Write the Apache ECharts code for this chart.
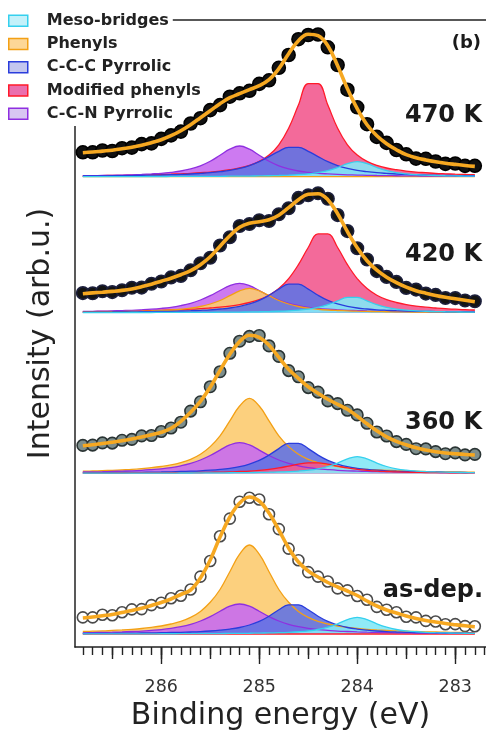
<!DOCTYPE html>
<html><head><meta charset="utf-8">
<script src="https://cdn.jsdelivr.net/npm/echarts@6/dist/echarts.min.js"></script>
<style>html,body{margin:0;padding:0;background:#fff}#c{width:486px;height:738px}</style>
</head><body><div id="c"></div>
<script>
// Binding energy grid (eV)
const energy = [286.8,286.7,286.6,286.5,286.4,286.3,286.2,286.1,286.0,285.9,285.8,285.7,285.6,285.5,285.4,285.3,285.2,285.1,285.0,284.9,284.8,284.7,284.6,284.5,284.4,284.3,284.2,284.1,284.0,283.9,283.8,283.7,283.6,283.5,283.4,283.3,283.2,283.1,283.0,282.9,282.8];
const xTickLabels = [283,284,285,286];
const componentNames = ['Meso-bridges','Phenyls','C-C-C Pyrrolic','Modified phenyls','C-C-N Pyrrolic'];
const panelLabels = ['as-dep.','360 K','420 K','470 K'];
const offsets = [13,173.7,334.3,470.3];

// ---- as-dep. ----
const asdepMeso = [0.12,0.13,0.14,0.15,0.16,0.18,0.19,0.21,0.23,0.26,0.28,0.32,0.36,0.41,0.47,0.53,0.63,0.73,0.89,1.08,1.34,1.7,2.25,3.1,4.5,6.8,10.2,14.4,16.7,14.4,10.2,6.8,4.5,3.1,2.25,1.7,1.34,1.08,0.89,0.73,0.63];
const asdepPhenyls = [2.5,2.8,3.1,3.6,4.1,4.7,5.5,6.6,8.0,10.0,12.6,16.6,22.6,31.7,44.5,62.3,79.8,89,79.8,62.3,44.5,31.7,22.6,16.6,12.6,10.0,8.0,6.6,5.5,4.7,4.1,3.6,3.1,2.8,2.5,2.2,2.0,1.8,1.6,1.5,1.4];
const asdepCCC = [0.5,0.6,0.6,0.7,0.8,0.9,1.0,1.1,1.3,1.5,1.7,2.0,2.4,3.0,3.8,4.9,6.5,9.0,12.6,17.8,24.2,29.2,29.2,24.2,17.8,12.6,9.0,6.5,4.9,3.8,3.0,2.4,2.0,1.7,1.5,1.3,1.1,1.0,0.9,0.8,0.7];
const asdepModified = [0,0,0,0,0,0,0,0,0,0,0,0,0,0,0,0,0,0,0,0,0,0,0,0,0,0,0,0,0,0,0,0,0,0,0,0,0,0,0,0,0];
const asdepCCN = [1.2,1.4,1.6,1.8,2.1,2.5,2.9,3.6,4.4,5.6,7.3,9.7,13.0,17.4,22.7,27.8,30,27.8,22.7,17.4,13.0,9.7,7.3,5.6,4.4,3.6,2.9,2.5,2.1,1.8,1.6,1.4,1.2,1.1,1.0,0.9,0.8,0.7,0.7,0.6,0.6];
const asdepFit = [16,17,18.3,19.5,21.5,23.5,25.8,28.5,31.5,35,39.5,44,56,74,97,117,131,137,133,121,104,86,72,63,57,51.5,47,43,38.5,33,28,24,21,18,15.5,13.5,12,10.5,9.3,8.2,7.3];
const asdepData = [16.6,16.6,19.2,18.8,21.7,24.6,24.9,28.9,31.2,35.8,38.3,44.5,57.4,73.0,97.7,115.4,132.2,136.2,134.5,119.7,104.9,85.4,73.8,61.9,57.4,52.5,45.6,43.6,38.0,34.2,27.1,24.3,21.8,17.3,16.6,13.1,12.5,9.7,9.9,7.9,7.7];

// ---- 360 K ----
const k360Meso = [0.12,0.13,0.14,0.15,0.16,0.18,0.19,0.21,0.23,0.26,0.28,0.32,0.36,0.41,0.47,0.53,0.63,0.73,0.89,1.08,1.34,1.7,2.25,3.1,4.5,6.8,10.2,14.4,16.7,14.4,10.2,6.8,4.5,3.1,2.25,1.7,1.34,1.08,0.89,0.73,0.63];
const k360Phenyls = [2.1,2.3,2.6,3.0,3.5,4.0,4.7,5.6,6.8,8.4,10.7,14.0,19.1,26.7,37.5,52.5,67.3,75,67.3,52.5,37.5,26.7,19.1,14.0,10.7,8.4,6.8,5.6,4.7,4.0,3.5,3.0,2.6,2.3,2.1,1.8,1.65,1.5,1.35,1.24,1.15];
const k360CCC = [0.52,0.58,0.64,0.72,0.8,0.9,1.0,1.15,1.3,1.5,1.8,2.1,2.5,3.1,3.9,5.0,6.6,9.2,12.9,18.2,24.7,29.9,29.9,24.7,18.2,12.9,9.2,6.6,5.0,3.9,3.1,2.5,2.1,1.8,1.5,1.3,1.15,1.0,0.9,0.8,0.72];
const k360Modified = [0.21,0.22,0.25,0.27,0.3,0.33,0.37,0.42,0.47,0.54,0.61,0.7,0.82,0.96,1.17,1.4,1.8,2.25,3.0,4.0,5.35,7.2,9.1,10.5,10.5,9.1,7.2,5.35,4.0,3.0,2.25,1.8,1.4,1.17,0.96,0.82,0.7,0.61,0.54,0.47,0.42];
const k360CCN = [1.3,1.4,1.6,1.9,2.2,2.5,3.0,3.7,4.5,5.7,7.5,9.9,13.3,17.8,23.2,28.4,30.7,28.4,23.2,17.8,13.3,9.9,7.5,5.7,4.5,3.7,3.0,2.5,2.2,1.9,1.6,1.4,1.3,1.1,1.0,0.9,0.83,0.75,0.68,0.63,0.58];
const k360Fit = [27.5,28.5,29.8,31,32.5,34.3,36.3,38.5,41,45,52,61,72,86,103,119,131.7,138,136,128,116,104,95,86.5,80,74,69,64,57,49.5,42.5,36.5,32,28.5,25.5,23.3,21.5,20.3,19.5,18.8,18.3];
const k360Data = [27.9,28.2,30.4,30.2,33.0,33.9,37.4,37.8,41.8,45.3,51.1,62.2,71.5,86.6,101.6,120.0,132.1,136.9,137.8,127.4,116.9,102.7,96.5,85.7,81.2,72.4,69.7,63.0,58.4,50.0,41.3,37.3,31.7,28.9,24.6,24.4,21.7,19.6,20.4,18.4,18.9];

// ---- 420 K ----
const k420Meso = [0.12,0.13,0.14,0.15,0.16,0.18,0.19,0.21,0.24,0.26,0.29,0.32,0.37,0.42,0.48,0.55,0.66,0.77,0.93,1.15,1.44,1.9,2.5,3.6,5.3,8.0,11.8,15.4,15.4,11.8,8.0,5.3,3.6,2.5,1.9,1.44,1.15,0.93,0.77,0.66,0.55];
const k420Phenyls = [0.68,0.75,0.84,0.97,1.1,1.3,1.5,1.8,2.2,2.7,3.45,4.5,6.2,8.7,12.2,17.0,21.8,24.3,21.8,17.0,12.2,8.7,6.2,4.5,3.45,2.7,2.2,1.8,1.5,1.3,1.1,0.97,0.84,0.75,0.68,0.59,0.53,0.49,0.44,0.4,0.37];
const k420CCC = [0.5,0.56,0.62,0.68,0.76,0.86,0.97,1.1,1.26,1.4,1.7,2.0,2.4,2.9,3.7,4.7,6.3,8.8,12.3,17.4,23.6,28.5,28.5,23.6,17.4,12.3,8.8,6.3,4.7,3.7,2.9,2.4,2.0,1.7,1.4,1.26,1.1,0.97,0.86,0.76,0.68];
const k420Modified = [1.08,1.17,1.3,1.38,1.54,1.7,1.9,2.1,2.4,2.7,3.0,3.5,4.0,4.7,5.5,6.6,8.1,10.2,13.1,17.5,24.2,34.1,48.1,65.2,78.8,78.8,65.2,48.1,34.1,24.2,17.5,13.1,10.2,8.1,6.6,5.5,4.7,4.0,3.5,3.0,2.7];
const k420CCN = [1.2,1.4,1.55,1.8,2.1,2.4,2.9,3.5,4.3,5.4,7.1,9.4,12.7,17.0,22.2,27.1,29.3,27.1,22.2,17.0,12.7,9.4,7.1,5.4,4.3,3.5,2.9,2.4,2.1,1.8,1.55,1.4,1.2,1.08,0.95,0.88,0.79,0.71,0.64,0.6,0.56];
const k420Fit = [19,19.8,20.5,21.3,22.3,23.8,26,28.5,31.5,34.5,38,42,48,56,66.5,77,85.5,89.5,91,93,97.5,105,113,118.5,119,113,99,81,65,52,42.5,35.5,30,25.5,22,19.5,17.3,15.5,14,12.5,11];
const k420Data = [19.6,19.4,21.4,20.6,22.5,24.9,25.1,28.9,31.2,35.3,36.8,42.5,49.4,55.0,67.2,75.4,86.7,88.7,92.5,91.7,98.4,104.4,114.8,117.4,119.4,114.0,97.6,81.6,64.5,53.2,41.6,35.8,30.8,24.8,23.1,19.1,17.8,14.7,14.6,12.2,11.4];

// ---- 470 K ----
const k470Meso = [0.11,0.12,0.12,0.14,0.15,0.16,0.17,0.19,0.21,0.23,0.26,0.29,0.32,0.36,0.42,0.48,0.57,0.66,0.8,0.97,1.2,1.53,2.0,2.8,4.05,6.1,9.2,13.0,15,13.0,9.2,6.1,4.05,2.8,2.0,1.53,1.2,0.97,0.8,0.66,0.57];
const k470Phenyls = [0,0,0,0,0,0,0,0,0,0,0,0,0,0,0,0,0,0,0,0,0,0,0,0,0,0,0,0,0,0,0,0,0,0,0,0,0,0,0,0,0];
const k470CCC = [0.69,0.77,0.86,0.93,1.04,1.17,1.3,1.5,1.7,2.0,2.3,2.7,3.3,4.0,5.0,6.3,8.3,11.1,15,20.1,25.4,29.4,29.4,25.4,20.1,15,11.1,8.3,6.3,5.0,4.0,3.3,2.7,2.3,2.0,1.7,1.5,1.3,1.17,1.04,0.93];
const k470Modified = [0.97,1.06,1.16,1.29,1.42,1.58,1.74,1.93,2.2,2.5,2.9,3.35,4.0,4.6,5.6,7.0,8.7,11.3,15.3,21.6,31.9,48.4,71.6,93.0,93.0,71.6,48.4,31.9,21.6,15.3,11.3,8.7,7.0,5.6,4.6,4.0,3.35,2.9,2.5,2.2,1.93];
const k470CCN = [0.95,1.06,1.2,1.4,1.6,1.9,2.3,2.8,3.4,4.4,5.7,7.8,10.9,15.4,21.5,27.5,30.7,27.5,21.5,15.4,10.9,7.8,5.7,4.4,3.4,2.8,2.3,1.9,1.6,1.4,1.2,1.06,0.95,0.86,0.75,0.68,0.61,0.55,0.51,0.47,0.42];
const k470Fit = [24,24.7,25.6,26.5,28,29.5,31.5,34,37,41,46,52,59,66,73,79,83,87,91,97,108,123,136,142.5,141,131,111,88,68,52,41,33,27,22,19,16.8,15,13.5,12.3,11.2,10.3];
const k470Data = [24.4,24.4,26.2,25.7,28.5,29.1,32.6,33.3,37.8,41.3,45.1,53.2,58.5,66.6,71.6,80.0,83.4,85.9,92.8,96.4,108.9,121.7,137.5,141.7,142.2,129.4,111.7,87.0,69.4,52.5,39.8,33.8,26.7,22.4,18.1,17.9,15.2,12.8,13.2,10.8,10.9];

// ---- styling ----
const fillColor = {'Meso-bridges':'#84e8f6','Phenyls':'#fccb70','C-C-C Pyrrolic':'#6373e3','Modified phenyls':'#f25a8f','C-C-N Pyrrolic':'#c86cf0'};
const lineColor = {'Meso-bridges':'#35d0ee','Phenyls':'#f3a015','C-C-C Pyrrolic':'#2a3ddc','Modified phenyls':'#ff1a2a','C-C-N Pyrrolic':'#8f2fe0'};
const legendFill = {'Meso-bridges':'#c4f1fa','Phenyls':'#fdd797','C-C-C Pyrrolic':'#c3c6ef','Modified phenyls':'#ea6fae','C-C-N Pyrrolic':'#d8c6f2'};

const panels = [
  {comps:{'Meso-bridges':asdepMeso,'Phenyls':asdepPhenyls,'C-C-C Pyrrolic':asdepCCC,'Modified phenyls':asdepModified,'C-C-N Pyrrolic':asdepCCN}, fit:asdepFit, data:asdepData,
   order:['Modified phenyls','Phenyls','C-C-N Pyrrolic','C-C-C Pyrrolic','Meso-bridges'], mFill:'#ffffff', mBorder:'#4a4a4a', mSize:11},
  {comps:{'Meso-bridges':k360Meso,'Phenyls':k360Phenyls,'C-C-C Pyrrolic':k360CCC,'Modified phenyls':k360Modified,'C-C-N Pyrrolic':k360CCN}, fit:k360Fit, data:k360Data,
   order:['Phenyls','C-C-N Pyrrolic','C-C-C Pyrrolic','Modified phenyls','Meso-bridges'], mFill:'#7d8e8c', mBorder:'#2a3434', mSize:11.5},
  {comps:{'Meso-bridges':k420Meso,'Phenyls':k420Phenyls,'C-C-C Pyrrolic':k420CCC,'Modified phenyls':k420Modified,'C-C-N Pyrrolic':k420CCN}, fit:k420Fit, data:k420Data,
   order:['Modified phenyls','C-C-N Pyrrolic','Phenyls','C-C-C Pyrrolic','Meso-bridges'], mFill:'#141414', mBorder:'#1c1f3c', mSize:12.5},
  {comps:{'Meso-bridges':k470Meso,'Phenyls':k470Phenyls,'C-C-C Pyrrolic':k470CCC,'Modified phenyls':k470Modified,'C-C-N Pyrrolic':k470CCN}, fit:k470Fit, data:k470Data,
   order:['Phenyls','Modified phenyls','C-C-N Pyrrolic','C-C-C Pyrrolic','Meso-bridges'], mFill:'#111111', mBorder:'#000000', mSize:13}
];

function pts(arr, off){ return energy.map((e,i)=>[e, +(off+arr[i]).toFixed(2)]); }

const series = [];
panels.forEach((p, pi) => {
  const off = offsets[pi];
  p.order.forEach(name => {
    series.push({
      type:'line', name:name, smooth:0.4, showSymbol:false, silent:true,
      data: pts(p.comps[name], off),
      lineStyle:{color:lineColor[name], width:1.3},
      itemStyle:{color:fillColor[name]},
      areaStyle:{color:fillColor[name], opacity:0.9, origin:off}
    });
  });
  series.push({
    type:'scatter', name:panelLabels[pi]+' data', symbol:'circle', symbolSize:p.mSize, silent:true,
    data: pts(p.data, off),
    itemStyle:{color:p.mFill, borderColor:p.mBorder, borderWidth:1.6, opacity:1}
  });
  series.push({
    type:'line', name:panelLabels[pi]+' fit', smooth:0.4, showSymbol:false, silent:true,
    data: pts(p.fit, off),
    lineStyle:{color:'#f6a821', width:3.6}
  });
});

const majorTicks = xTickLabels.slice();
const mediumTicks = [];
for (let k = 566; k <= 573; k++) mediumTicks.push(k/2);
const minorTicks = [];
for (let k = 2827; k <= 2868; k++) minorTicks.push(k/10);

const xMin = 282.686, xMax = 286.88;
const tickStyle = {color:'#222', width:1.4};
const frameLine = {color:'#222', width:1.5};
const chart = echarts.init(document.getElementById('c'), null, {renderer:'canvas'});
chart.setOption({
  animation:false,
  backgroundColor:'#ffffff',
  grid:{left:75, right:0, top:20, bottom:91, show:false},
  xAxis:[
    {type:'value', min:xMin, max:xMax, inverse:true, position:'bottom',
     axisLine:{show:true, onZero:false, lineStyle:frameLine},
     axisTick:{show:true, customValues:majorTicks, length:17, lineStyle:tickStyle},
     axisLabel:{show:true, customValues:xTickLabels, margin:31, fontSize:17.5, fontFamily:'DejaVu Sans', color:'#333'},
     splitLine:{show:false},
     name:'Binding energy (eV)', nameLocation:'middle', nameGap:51,
     nameTextStyle:{fontSize:30, fontFamily:'DejaVu Sans', color:'#222'}},
    {type:'value', min:xMin, max:xMax, inverse:true, position:'bottom',
     axisLine:{show:false}, axisTick:{show:true, customValues:minorTicks, length:8, lineStyle:tickStyle},
     axisLabel:{show:false}, splitLine:{show:false}},
    {type:'value', min:xMin, max:xMax, inverse:true, position:'bottom',
     axisLine:{show:false}, axisTick:{show:true, customValues:mediumTicks, length:12, lineStyle:tickStyle},
     axisLabel:{show:false}, splitLine:{show:false}},
    {type:'value', min:xMin, max:xMax, inverse:true, position:'top',
     axisLine:{show:true, onZero:false, lineStyle:frameLine}, axisTick:{show:false},
     axisLabel:{show:false}, splitLine:{show:false}}
  ],
  yAxis:{type:'value', min:0, max:627, show:true,
     axisLine:{show:true, onZero:false, lineStyle:frameLine}, axisTick:{show:false}, axisLabel:{show:false}, splitLine:{show:false},
     name:'Intensity (arb.u.)', nameLocation:'middle', nameRotate:90, nameGap:19,
     nameTextStyle:{fontSize:30, fontFamily:'DejaVu Sans', color:'#222'}},
  legend:{show:true, orient:'vertical', left:8, top:8.5, padding:0, itemGap:-1, itemWidth:19, itemHeight:11,
     icon:'rect', selectedMode:false, z:20,
     textStyle:{fontFamily:'DejaVu Sans', fontWeight:'bold', fontSize:16, color:'#222', lineHeight:18.3,
                backgroundColor:'#ffffff', padding:[3,4,3,14]},
     data: componentNames.map(n => ({name:n, icon:'rect',
        itemStyle:{color:legendFill[n], borderColor:lineColor[n], borderWidth:1.5}}))},
  graphic:[
    {type:'text', x:482, y:116, z:10, style:{text:panelLabels[3], font:'bold 24px "DejaVu Sans"', fill:'#1a1a1a', align:'right', verticalAlign:'middle'}},
    {type:'text', x:482, y:255, z:10, style:{text:panelLabels[2], font:'bold 24px "DejaVu Sans"', fill:'#1a1a1a', align:'right', verticalAlign:'middle'}},
    {type:'text', x:482, y:423, z:10, style:{text:panelLabels[1], font:'bold 24px "DejaVu Sans"', fill:'#1a1a1a', align:'right', verticalAlign:'middle'}},
    {type:'text', x:483, y:591, z:10, style:{text:panelLabels[0], font:'bold 24px "DejaVu Sans"', fill:'#1a1a1a', align:'right', verticalAlign:'middle'}},
    {type:'text', x:481, y:43, z:10, style:{text:'(b)', font:'bold 18px "DejaVu Sans"', fill:'#1a1a1a', align:'right', verticalAlign:'middle'}}
  ],
  series: series
});
</script>
</body></html>
